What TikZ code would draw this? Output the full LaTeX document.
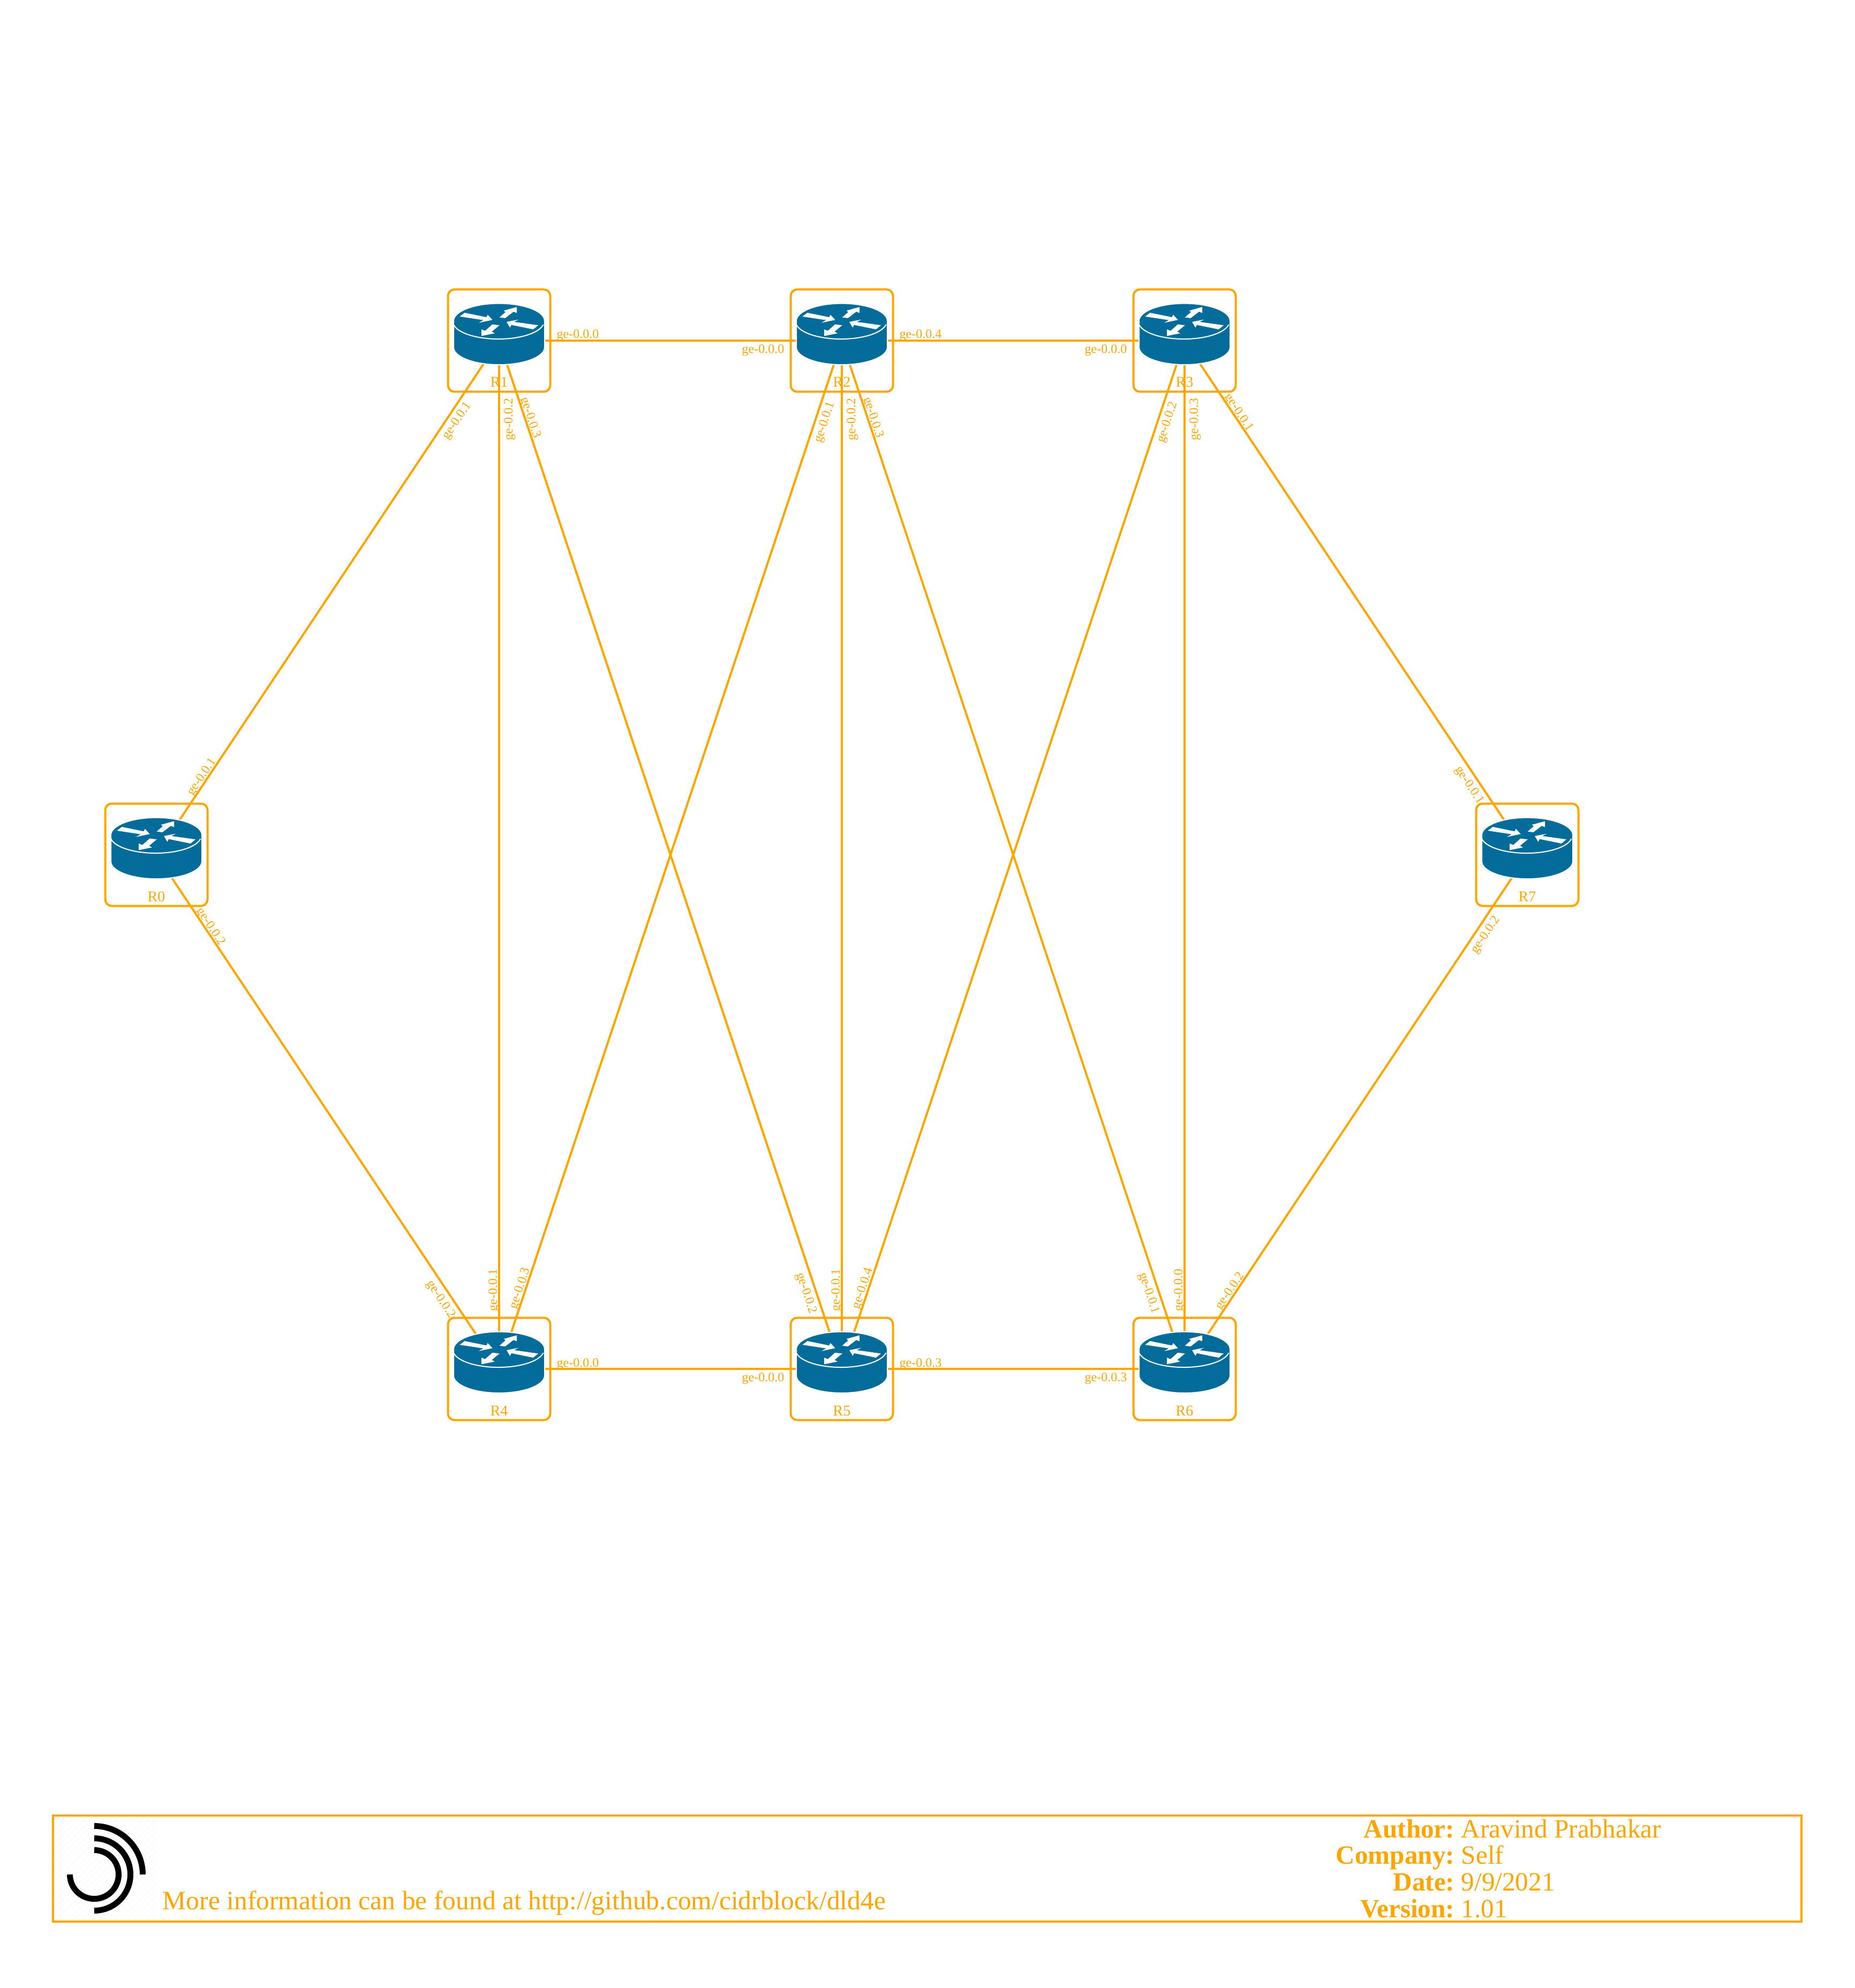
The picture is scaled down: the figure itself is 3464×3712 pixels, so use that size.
\documentclass[tikz,border=0pt]{standalone}
\usepackage{fontspec}
\setmainfont{Liberation Serif}
\usepackage{xcolor}
\usetikzlibrary{patterns}

\definecolor{linkorange}{rgb}{1,0.647,0}
\definecolor{routerblue}{rgb}{0.012,0.424,0.608}

\tikzset{
  routerbox/.style={draw=linkorange,line width=1pt,rounded corners=3pt,minimum size=47.75pt,inner sep=0pt},
  routername/.style={text=linkorange,font=\fontsize{7}{8}\selectfont,anchor=base,inner sep=0pt},
  portlabel/.style={text=linkorange,font=\fontsize{6}{7}\selectfont,anchor=base,inner sep=0pt},
  footertext/.style={text=linkorange,font=\fontsize{12.3}{14}\selectfont,inner sep=0pt},
  link/.style={draw=linkorange,line width=1pt},
  routericon/.pic={
    %body with a thin white edge
    \filldraw[fill=routerblue,draw=white,line width=0.5pt] (-85,-36.7) arc (180:360:85 and 32.7) -- (85,12.3) arc (0:180:85 and 32.7) -- cycle;
    \draw[white,line width=0.5pt] (-85,-30) arc (170:10:85 and 32.7);
    %arrows
    \fill[white] (-73.7,-45) -- (-64.3,-52) -- (-23.7,-43.7) -- (-21.3,-48.3) -- (-12.3,-38.7) -- (-38,-33.3) -- (-29.3,-38.3) -- cycle;
    \fill[white] (0.7,-43.3) -- (12,-53.3) -- (8.7,-56) -- (33,-62.7) -- (33,-51.7) -- (27,-54) -- (11.3,-42) -- cycle;
    \fill[white] (73,-28.7) -- (63.7,-21) -- (23,-29.3) -- (20.3,-24.3) -- (14,-35) -- (36.3,-39.3) -- (28,-35) -- cycle;
    \fill[white] (-33,-8.7) -- (-33,-21) -- (-26,-18.3) -- (-12.7,-30.3) -- (0.7,-28.7) -- (-13.7,-16.7) -- (-8,-13.7) -- cycle;
  }
}

\begin{document}
\begin{tikzpicture}[x=0.25pt,y=-0.25pt]
\useasboundingbox (0,0) rectangle (3464,3712);

%Routers
\node[routerbox] (R0) at (292,1596) {};
\node[routerbox] (R1) at (932,636) {};
\node[routerbox] (R2) at (1572,636) {};
\node[routerbox] (R3) at (2212,636) {};
\node[routerbox] (R4) at (932,2556) {};
\node[routerbox] (R5) at (1572,2556) {};
\node[routerbox] (R6) at (2212,2556) {};
\node[routerbox] (R7) at (2852,1596) {};

%Links
\draw[link] (R0.center) -- (R1.center);
\draw[link] (R0.center) -- (R4.center);
\draw[link] (R1.center) -- (R2.center);
\draw[link] (R2.center) -- (R3.center);
\draw[link] (R1.center) -- (R4.center);
\draw[link] (R1.center) -- (R5.center);
\draw[link] (R2.center) -- (R4.center);
\draw[link] (R2.center) -- (R5.center);
\draw[link] (R2.center) -- (R6.center);
\draw[link] (R3.center) -- (R5.center);
\draw[link] (R3.center) -- (R6.center);
\draw[link] (R3.center) -- (R7.center);
\draw[link] (R4.center) -- (R5.center);
\draw[link] (R5.center) -- (R6.center);
\draw[link] (R6.center) -- (R7.center);

%Icons
\pic at (R0) {routericon};
\pic at (R1) {routericon};
\pic at (R2) {routericon};
\pic at (R3) {routericon};
\pic at (R4) {routericon};
\pic at (R5) {routericon};
\pic at (R6) {routericon};
\pic at (R7) {routericon};

%Router names
\node[routername] (nameR0) at (292,1683) {R0};
\node[routername] (nameR1) at (932,723) {R1};
\node[routername] (nameR2) at (1572,723) {R2};
\node[routername] (nameR3) at (2212,723) {R3};
\node[routername] (nameR4) at (932,2643) {R4};
\node[routername] (nameR5) at (1572,2643) {R5};
\node[routername] (nameR6) at (2212,2643) {R6};
\node[routername] (nameR7) at (2852,1683) {R7};

%Port labels R0
\node[portlabel,rotate=56.3] (pR0a) at (381.9,1454) {ge-0.0.1};
\node[portlabel,rotate=-56.3] (pR0b) at (388.5,1733.6) {ge-0.0.2};
%Port labels R1
\node[portlabel] (pR1a) at (1079,632) {ge-0.0.0};
\node[portlabel,rotate=56.3] (pR1b) at (858.8,789.1) {ge-0.0.1};
\node[portlabel,rotate=90] (pR1c) at (957,783) {ge-0.0.2};
\node[portlabel,rotate=-71.6] (pR1d) at (984.8,781.7) {ge-0.0.3};
%Port labels R2
\node[portlabel] (pR2a) at (1425,660) {ge-0.0.0};
\node[portlabel,rotate=71.6] (pR2b) at (1545.8,790.6) {ge-0.0.1};
\node[portlabel,rotate=90] (pR2c) at (1597,783) {ge-0.0.2};
\node[portlabel,rotate=-71.6] (pR2d) at (1624.8,781.7) {ge-0.0.3};
\node[portlabel] (pR2e) at (1719,632) {ge-0.0.4};
%Port labels R3
\node[portlabel] (pR3a) at (2065,660) {ge-0.0.0};
\node[portlabel,rotate=-56.3] (pR3b) at (2308.5,773.6) {ge-0.0.1};
\node[portlabel,rotate=71.6] (pR3c) at (2185.8,790.6) {ge-0.0.2};
\node[portlabel,rotate=90] (pR3d) at (2237,783) {ge-0.0.3};
%Port labels R4
\node[portlabel] (pR4a) at (1079,2552) {ge-0.0.0};
\node[portlabel,rotate=90] (pR4b) at (928,2409) {ge-0.0.1};
\node[portlabel,rotate=-56.3] (pR4c) at (818.8,2429.5) {ge-0.0.2};
\node[portlabel,rotate=71.6] (pR4d) at (977.2,2407.7) {ge-0.0.3};
%Port labels R5
\node[portlabel] (pR5a) at (1425,2579) {ge-0.0.0};
\node[portlabel,rotate=90] (pR5b) at (1568,2409) {ge-0.0.1};
\node[portlabel,rotate=-71.6] (pR5c) at (1500.2,2416.6) {ge-0.0.2};
\node[portlabel] (pR5d) at (1719,2552) {ge-0.0.3};
\node[portlabel,rotate=71.6] (pR5e) at (1617.2,2407.7) {ge-0.0.4};
%Port labels R6
\node[portlabel,rotate=90] (pR6a) at (2208,2409) {ge-0.0.0};
\node[portlabel,rotate=-71.6] (pR6b) at (2140.2,2416.6) {ge-0.0.1};
\node[portlabel,rotate=56.3] (pR6c) at (2301.9,2414) {ge-0.0.2};
\node[portlabel] (pR6d) at (2065,2579) {ge-0.0.3};
%Port labels R7
\node[portlabel,rotate=-56.3] (pR7a) at (2738.8,1469.5) {ge-0.0.1};
\node[portlabel,rotate=56.3] (pR7b) at (2778.8,1749.1) {ge-0.0.2};

%Footer
\node[draw=linkorange,line width=1pt,minimum width=816.25pt,minimum height=49.5pt,inner sep=0pt] (footerbox) at (1731.5,3489) {};
\fill[pattern=north east lines,pattern color=gray!4] (103,3397) rectangle (291,3582);
\draw[line width=2.75pt] (176,3409.5) arc (-90:0:90.5);
\draw[line width=2.75pt] (176,3432.5) arc (-90:90:67.5);
\draw[line width=2.75pt] (176,3454.5) arc (-90:180:45.5);
\node[footertext,font=\fontsize{12.39}{14}\selectfont,anchor=base west] (moreinfo) at (303,3565) {More information can be found at http://github.com/cidrblock/dld4e};
\node[footertext,anchor=base east] (authorkey) at (2717,3431) {\textbf{Author:}};
\node[footertext,anchor=base west] (authorval) at (2728,3431) {Aravind Prabhakar};
\node[footertext,anchor=base east] (companykey) at (2717,3480) {\textbf{Company:}};
\node[footertext,anchor=base west] (companyval) at (2728,3480) {Self};
\node[footertext,anchor=base east] (datekey) at (2717,3530) {\textbf{Date:}};
\node[footertext,anchor=base west] (dateval) at (2728,3530) {9/9/2021};
\node[footertext,anchor=base east] (versionkey) at (2717,3580) {\textbf{Version:}};
\node[footertext,anchor=base west] (versionval) at (2728,3580) {1.01};

\end{tikzpicture}
\end{document}
